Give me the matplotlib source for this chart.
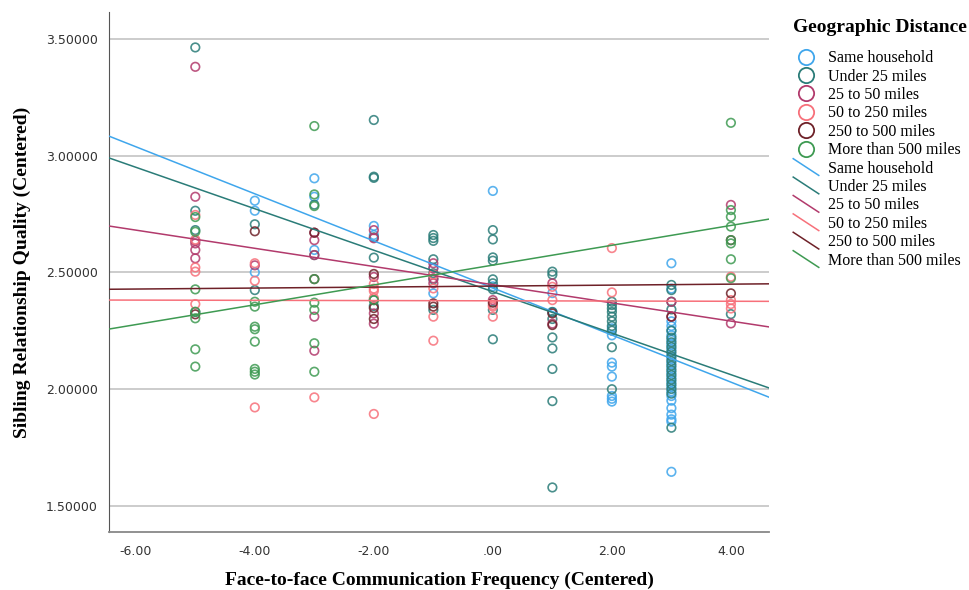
import numpy as np
import matplotlib
matplotlib.use('Agg')
import matplotlib.pyplot as plt
from matplotlib.lines import Line2D
from matplotlib.legend_handler import HandlerBase
from matplotlib.ticker import FuncFormatter

# 各組別名稱與顏色
groups = ['Same household', 'Under 25 miles', '25 to 50 miles',
          '50 to 250 miles', '250 to 500 miles', 'More than 500 miles']
colors = ['#3fa6ec', '#2a7c78', '#b23a6c', '#f7707a', '#6e2128', '#3e9a52']

# 散點數據：x = 面對面交流頻率（中心化），y = 手足關係品質
same_x = [-4, -4, -4, -3, -3, -3, -2, -2, -1, -1, 0, 0, 1, 1,
          2, 2, 2, 2, 2, 2, 2, 2,
          3, 3, 3, 3, 3, 3, 3, 3, 3, 3, 3, 3, 3, 3, 3, 3, 3, 3, 3, 3, 3, 3, 3, 3, 3]
same_y = [2.807, 2.764, 2.500, 2.903, 2.824, 2.596, 2.699, 2.660, 2.410, 2.520, 2.849, 2.440, 2.411, 2.330,
          2.260, 2.230, 2.113, 2.096, 2.053, 1.970, 1.958, 1.946,
          2.539, 2.430, 2.290, 2.270, 2.250, 2.230, 2.210, 2.190, 2.170, 2.150, 2.130, 2.110, 2.090,
          2.070, 2.050, 2.030, 2.010, 1.990, 1.970, 1.950, 1.918, 1.890, 1.870, 1.860, 1.645]

u25_x = [-5, -5, -5, -5, -4, -4, -3, -3, -2, -2, -2, -2, -2, -2, -2,
         -1, -1, -1, -1, -1, -1, -1, 0, 0, 0, 0, 0, 0, 0, 0, 0,
         1, 1, 1, 1, 1, 1, 1, 1, 1, 2, 2, 2, 2, 2, 2, 2, 2, 2, 2,
         3, 3, 3, 3, 3, 3, 3, 3, 3, 3, 3, 3, 3, 3, 3, 3, 3, 3, 3, 4]
u25_y = [3.464, 2.764, 2.681, 2.330, 2.706, 2.424, 2.790, 2.574, 3.153, 2.910, 2.905, 2.650, 2.563, 2.381, 2.356,
         2.660, 2.647, 2.635, 2.556, 2.496, 2.339, 2.470, 2.681, 2.641, 2.564, 2.550, 2.470, 2.453, 2.427, 2.339, 2.213,
         2.503, 2.490, 2.330, 2.221, 2.174, 2.086, 1.948, 1.578, 2.300,
         2.374, 2.360, 2.345, 2.330, 2.310, 2.290, 2.270, 2.250, 2.179, 1.999,
         2.446, 2.424, 2.374, 2.341, 2.250, 2.220, 2.200, 2.180, 2.160, 2.140, 2.120, 2.100, 2.080,
         2.060, 2.040, 2.020, 2.000, 1.980, 1.834, 2.321]

m25_x = [-5, -5, -5, -5, -5, -5, -4, -3, -3, -3, -3, -3, -2, -2, -2, -2, -2,
         -1, -1, -1, -1, 0, 1, 1, 3, 3, 4, 4]
m25_y = [3.381, 2.824, 2.635, 2.624, 2.596, 2.560, 2.530, 2.670, 2.638, 2.574, 2.310, 2.164,
         2.681, 2.646, 2.480, 2.324, 2.280, 2.539, 2.517, 2.474, 2.453, 2.381, 2.453, 2.280,
         2.374, 2.310, 2.789, 2.281]

m50_x = [-5, -5, -5, -5, -5, -4, -4, -4, -3, -2, -2, -2, -2, -2,
         -1, -1, -1, -1, 0, 0, 0, 1, 1, 2, 2, 4, 4, 4, 4]
m50_y = [2.746, 2.640, 2.521, 2.503, 2.364, 2.539, 2.464, 1.921, 1.964, 2.450, 2.430, 2.420, 2.390, 1.893,
         2.431, 2.310, 2.207, 2.490, 2.360, 2.353, 2.310, 2.438, 2.381, 2.604, 2.414,
         2.481, 2.381, 2.364, 2.345]

m250_x = [-5, -4, -3, -3, -2, -2, -2, -1, -1, 0, 1, 1, 3, 4, 4]
m250_y = [2.320, 2.676, 2.670, 2.471, 2.493, 2.347, 2.300, 2.367, 2.353, 2.370, 2.324, 2.274, 2.310, 2.638, 2.410]

m500_x = [-5, -5, -5, -5, -5, -5, -5, -4, -4, -4, -4, -4, -4, -4, -4,
          -3, -3, -3, -3, -3, -3, -3, -3, -2, 4, 4, 4, 4, 4, 4, 4, 4]
m500_y = [2.737, 2.674, 2.427, 2.331, 2.303, 2.170, 2.096,
          2.374, 2.353, 2.267, 2.256, 2.203, 2.086, 2.074, 2.062,
          3.127, 2.834, 2.784, 2.471, 2.370, 2.339, 2.196, 2.074, 2.381,
          3.141, 2.767, 2.738, 2.696, 2.638, 2.624, 2.556, 2.475]

xs = [same_x, u25_x, m25_x, m50_x, m250_x, m500_x]
ys = [same_y, u25_y, m25_y, m50_y, m250_y, m500_y]

# 各組擬合線（截距, 斜率）
intercepts = [2.433, 2.417, 2.447, 2.378, 2.441, 2.531]
slopes = [-0.1009, -0.0889, -0.0390, -0.0005, 0.0021, 0.0425]

x_ticks = [-6, -4, -2, 0, 2, 4]
y_ticks = [1.5, 2.0, 2.5, 3.0, 3.5]


class DiagHandler(HandlerBase):
    # 圖例中的斜線
    def create_artists(self, legend, orig_handle, xdescent, ydescent,
                       width, height, fontsize, trans):
        ln = Line2D([-xdescent, width - xdescent], [height - ydescent + 2, -ydescent - 2],
                    color=orig_handle.get_color(), lw=orig_handle.get_linewidth())
        ln.set_transform(trans)
        return [ln]


fig = plt.figure(figsize=(9.69, 5.90), dpi=100)
ax = fig.add_axes([0.1125, 0.0983, 0.6811, 0.8814])

xlim = (-6.45, 4.64)
ax.set_xlim(xlim)
ax.set_ylim(1.387, 3.616)

for y in y_ticks:
    ax.axhline(y, color='#c8c8c8', lw=1.3, zorder=0)

for x, y, c in zip(xs, ys, colors):
    ax.scatter(x, y, s=38, facecolors='none', edgecolors=c, linewidths=1.2, alpha=0.85, zorder=3)

line_x = np.array(xlim)
for b0, b1, c in zip(intercepts, slopes, colors):
    ax.plot(line_x, b0 + b1 * line_x, color=c, lw=1.1, zorder=4)

ax.spines['top'].set_visible(False)
ax.spines['right'].set_visible(False)
ax.spines['left'].set_color('#555555')
ax.spines['bottom'].set_color('#888888')
ax.spines['bottom'].set_linewidth(1.3)

ax.set_xticks(x_ticks)
ax.set_yticks(y_ticks)
ax.xaxis.set_major_formatter(FuncFormatter(lambda v, p: '.00' if v == 0 else f'{v:.2f}'))
ax.yaxis.set_major_formatter(FuncFormatter(lambda v, p: f'{v:.5f}'))
ax.tick_params(length=0, labelsize=9, labelcolor='#333333')
ax.tick_params(axis='x', pad=9)
ax.tick_params(axis='y', pad=8)

serif = 'Liberation Serif'
ax.set_xlabel('Face-to-face Communication Frequency (Centered)', family=serif,
              fontweight='bold', fontsize=14, labelpad=10)
ax.set_ylabel('Sibling Relationship Quality (Centered)', family=serif,
              fontweight='bold', fontsize=14, labelpad=11)

handles = [Line2D([], [], marker='o', ls='none', markersize=11, markerfacecolor='none',
                  markeredgecolor=c, markeredgewidth=1.3) for c in colors]
handles += [Line2D([], [], color=c, lw=1.1) for c in colors]
labels = groups + groups
hmap = {h: DiagHandler() for h in handles[6:]}
leg = fig.legend(handles, labels, loc='upper left', bbox_to_anchor=(0.812, 0.978),
                 frameon=False, title='Geographic Distance', handler_map=hmap,
                 prop={'family': serif, 'size': 11.5}, handlelength=1.6,
                 handletextpad=0.55, labelspacing=0.15, borderaxespad=0)
leg.get_title().set_fontfamily(serif)
leg.get_title().set_fontweight('bold')
leg.get_title().set_fontsize(14)
leg._legend_box.align = 'left'
leg._legend_box.sep = 10

fig.savefig('out.png', dpi=100)
